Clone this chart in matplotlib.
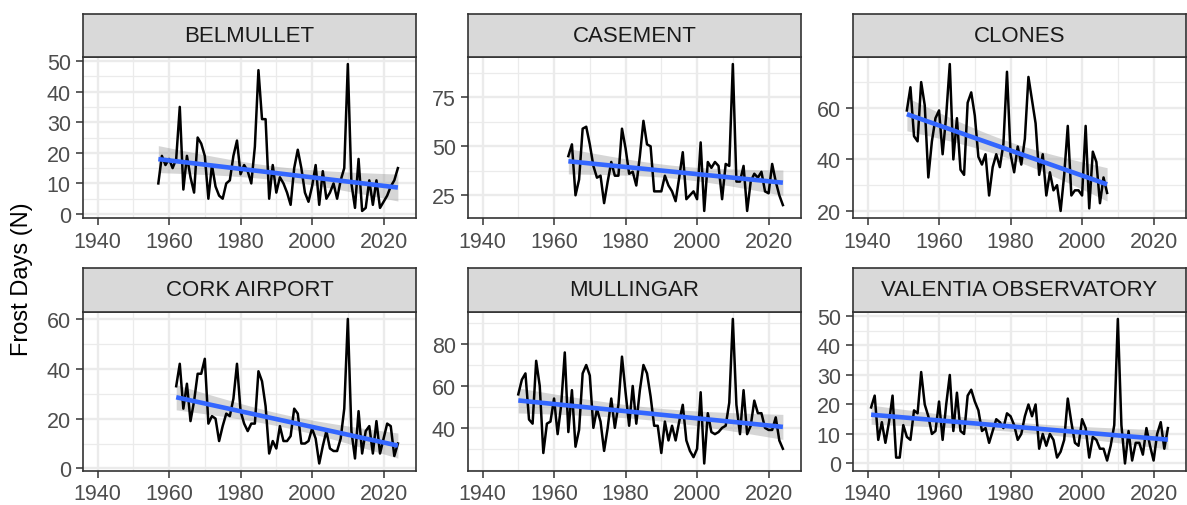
import numpy as np
import matplotlib
matplotlib.use("Agg")
import matplotlib.pyplot as plt
from matplotlib.ticker import MultipleLocator, FixedLocator

plt.rcParams['font.family'] = ['Liberation Sans', 'DejaVu Sans']

# ---------------- data ----------------
stations = ["BELMULLET", "CASEMENT", "CLONES",
            "CORK AIRPORT", "MULLINGAR", "VALENTIA OBSERVATORY"]

belmullet_years = list(range(1957, 2025))
belmullet = [10, 19, 16, 18, 15, 18, 35, 8, 19, 12, 7, 25, 23, 19, 5, 16, 9, 6, 5, 10,
             11, 19, 24, 13, 16, 14, 10, 22, 47, 31, 31, 5, 16, 7, 12, 10, 7, 3, 15, 21,
             15, 7, 4, 9, 16, 3, 14, 5, 7, 10, 5, 11, 15, 49, 10, 2, 18, 1, 2, 11,
             3, 11, 2, 4, 6, 9, 11, 15]

casement_years = list(range(1964, 2025))
casement = [45, 51, 25, 33, 59, 60, 51, 40, 34, 35, 21, 32, 42, 35, 35, 59, 49, 36, 37, 30,
            45, 63, 51, 50, 27, 27, 27, 35, 30, 27, 22, 34, 47, 23, 25, 27, 23, 52, 17, 42,
            39, 42, 40, 23, 41, 40, 92, 32, 32, 40, 17, 32, 36, 34, 37, 27, 26, 41, 32, 25, 20]

clones_years = list(range(1951, 2008))
clones = [59, 68, 49, 47, 70, 61, 33, 47, 56, 59, 42, 57, 77, 40, 56, 36, 34, 62, 66, 57,
          41, 38, 42, 26, 37, 42, 37, 46, 74, 42, 35, 45, 38, 48, 72, 63, 54, 34, 42, 26,
          35, 28, 30, 20, 34, 53, 26, 28, 28, 26, 53, 21, 43, 39, 23, 33, 27]

cork_years = list(range(1962, 2025))
cork = [33, 42, 24, 34, 19, 27, 38, 38, 44, 18, 21, 20, 11, 17, 22, 21, 28, 42, 23, 18,
        15, 18, 18, 39, 35, 25, 6, 11, 8, 17, 11, 11, 13, 24, 22, 10, 10, 11, 16, 12,
        2, 9, 15, 8, 7, 7, 12, 24, 60, 15, 4, 23, 6, 15, 17, 6, 19, 6, 12, 18, 17, 5, 10]

mullingar_years = list(range(1950, 2025))
mullingar = [56, 63, 66, 44, 42, 72, 60, 28, 42, 43, 54, 37, 51, 76, 38, 58, 31, 39, 66, 70,
             65, 40, 49, 43, 29, 40, 54, 40, 51, 74, 57, 41, 60, 42, 58, 70, 66, 55, 41, 41,
             28, 43, 34, 41, 34, 43, 51, 34, 29, 26, 30, 57, 23, 47, 38, 37, 38, 40, 41, 52,
             92, 51, 37, 58, 37, 41, 53, 47, 47, 40, 39, 39, 45, 34, 30]

valentia_years = list(range(1941, 2025))
valentia = [19, 23, 8, 14, 7, 14, 23, 2, 2, 13, 9, 8, 18, 17, 31, 20, 16, 10, 11, 21,
            8, 20, 30, 11, 24, 11, 10, 23, 25, 21, 18, 11, 12, 7, 11, 15, 14, 12, 17, 16,
            13, 8, 10, 16, 20, 16, 20, 5, 10, 6, 10, 8, 2, 4, 8, 22, 14, 7, 6, 15,
            12, 2, 9, 8, 5, 5, 1, 6, 13, 49, 13, 0, 11, 1, 7, 7, 3, 12, 6, 1,
            10, 14, 5, 12]

series_years = [belmullet_years, casement_years, clones_years,
                cork_years, mullingar_years, valentia_years]
series_values = [belmullet, casement, clones, cork, mullingar, valentia]

x_ticks = [1940, 1960, 1980, 2000, 2020]
y_ticks = [[0, 10, 20, 30, 40, 50], [25, 50, 75], [20, 40, 60],
           [0, 20, 40, 60], [40, 60, 80], [0, 10, 20, 30, 40, 50]]
y_label = "Frost Days (N)"

# ---------------- helpers ----------------
def t975(df):
    z = 1.959963985
    return (z + (z**3 + z) / (4 * df) + (5 * z**5 + 16 * z**3 + 3 * z) / (96 * df**2)
            + (3 * z**7 + 19 * z**5 + 17 * z**3 - 15 * z) / (384 * df**3))

def lm_fit(x, y, n_out=80):
    x = np.asarray(x, float); y = np.asarray(y, float)
    n = len(x)
    b, a = np.polyfit(x, y, 1)
    resid = y - (a + b * x)
    s = np.sqrt(np.sum(resid**2) / (n - 2))
    xm = x.mean(); sxx = np.sum((x - xm)**2)
    xs = np.linspace(x.min(), x.max(), n_out)
    fit = a + b * xs
    se = s * np.sqrt(1.0 / n + (xs - xm)**2 / sxx)
    t = t975(n - 2)
    return xs, fit, fit - t * se, fit + t * se

W, H = 1187, 506
fig = plt.figure(figsize=(W / 100, H / 100), dpi=100)

def rect(l, t, r, b):
    return [l / W, 1 - b / H, (r - l) / W, (b - t) / H]

col_l = [83.3, 468.3, 853.3]
pw = 332.4
rows = [(14.7, 57.7, 219.3), (269.0, 312.7, 471.7)]

all_years = [y for ys in series_years for y in ys]
xmin, xmax = min(all_years), max(all_years)
xr = xmax - xmin
xlim = (xmin - 0.06 * xr, xmax + 0.06 * xr)

border = "#333333"
for i, name in enumerate(stations):
    r, c = divmod(i, 3)
    st, pt, pb = rows[r]
    l = col_l[c]
    ax = fig.add_axes(rect(l, pt, l + pw, pb))
    sax = fig.add_axes(rect(l, st, l + pw, pt))

    xs_, ys_ = series_years[i], series_values[i]
    fx, fy, lo, hi = lm_fit(xs_, ys_)

    ax.fill_between(fx, lo, hi, color="#999999", alpha=0.4, lw=0, zorder=2)
    ax.plot(xs_, ys_, color="black", lw=1.8, zorder=3, solid_joinstyle="round")
    ax.plot(fx, fy, color="#3366FF", lw=3.3, zorder=4, solid_capstyle="butt")

    lo_all = min(min(ys_), lo.min()); hi_all = max(max(ys_), hi.max())
    yr = hi_all - lo_all
    ax.set_ylim(lo_all - 0.05 * yr, hi_all + 0.05 * yr)
    ax.set_xlim(*xlim)

    yt = y_ticks[i]
    step = yt[1] - yt[0]
    ax.yaxis.set_major_locator(FixedLocator(yt))
    ax.yaxis.set_minor_locator(MultipleLocator(step / 2))
    ax.xaxis.set_major_locator(FixedLocator(x_ticks))
    ax.xaxis.set_minor_locator(MultipleLocator(10))

    ax.grid(which="major", color="#EBEBEB", lw=1.7, zorder=0)
    ax.grid(which="minor", color="#EBEBEB", lw=0.9, zorder=0)
    ax.set_axisbelow(True)
    ax.tick_params(which="major", length=5, width=1.1, color=border,
                   labelsize=15.5, labelcolor="#4D4D4D", pad=4)
    ax.tick_params(which="minor", length=0)
    for sp in ax.spines.values():
        sp.set_color(border); sp.set_linewidth(1.2)

    sax.set_facecolor("#D9D9D9")
    sax.set_xticks([]); sax.set_yticks([])
    for sp in sax.spines.values():
        sp.set_color(border); sp.set_linewidth(1.2)
    sax.text(0.5, 0.5, name, ha="center", va="center", fontsize=16,
             color="#1A1A1A", transform=sax.transAxes)

fig.text(22 / W, 1 - 279 / H, y_label, rotation=90, ha="center", va="center",
         fontsize=17, color="black")

fig.savefig("out.png", dpi=100)
